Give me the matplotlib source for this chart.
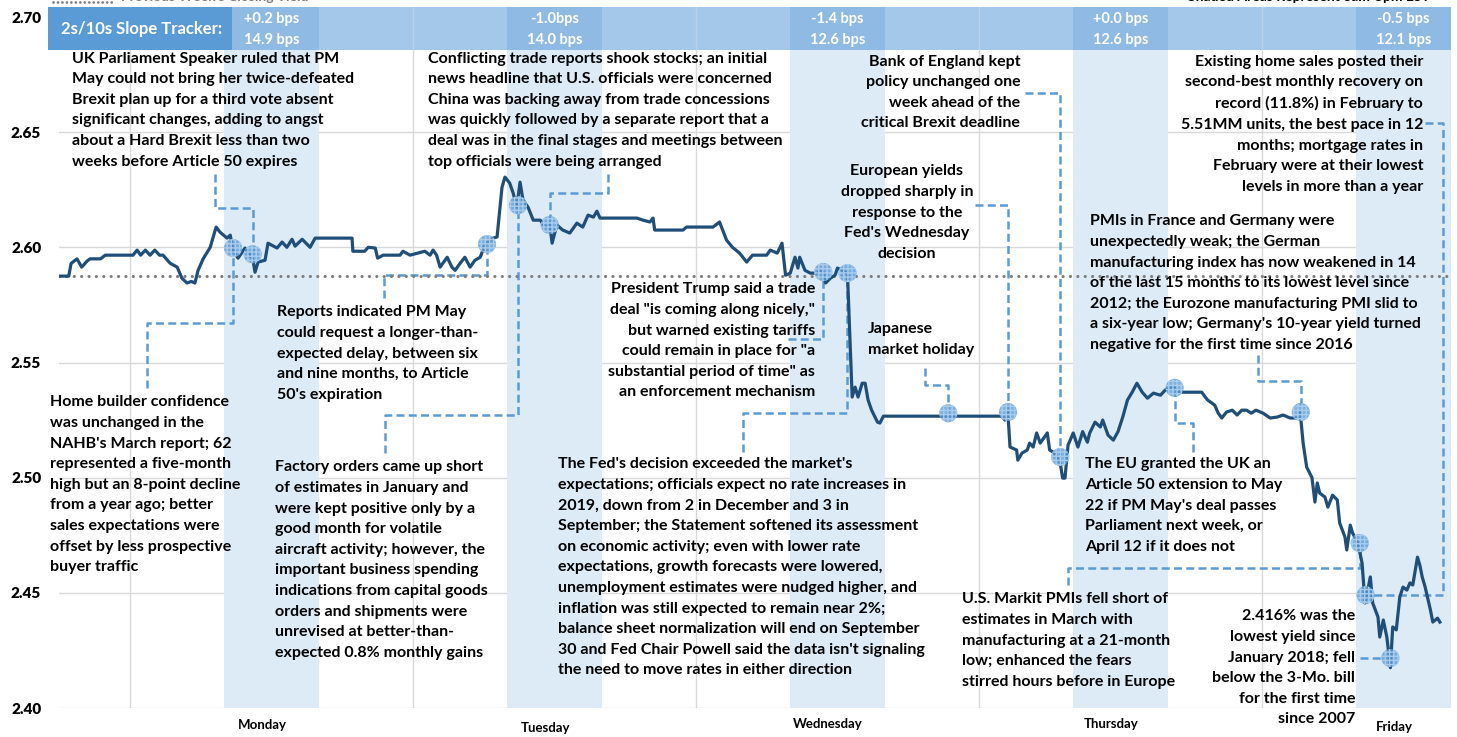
import matplotlib
matplotlib.use('Agg')
import matplotlib.pyplot as plt
from matplotlib.lines import Line2D
from matplotlib.patches import Rectangle

plt.rcParams['font.family'] = ['Lato', 'DejaVu Sans']

# ---------------- data ----------------
# hours measured from Monday 00:00 (week of the chart)
hours = [-6.0, -5.2, -5.0, -4.5, -4.1, -3.65, -3.4, -2.5, -2.1, 0.25, 0.6, 0.9, 1.3, 1.7, 2.1, 2.5, 2.8,
         3.4, 4.0, 4.4, 4.83, 5.2, 5.5, 5.77, 6.2, 6.8, 7.3, 7.63, 8.23, 8.5, 8.74, 9.16, 9.75, 10.2, 10.43,
         10.6, 10.86, 11.45, 11.7, 12.47, 12.9, 13.3, 13.74, 14.0, 14.6, 15.27, 15.7, 18.83, 18.9, 19.9,
         20.2, 20.8, 21.0, 21.46, 22.9, 23.15, 23.75, 25.0, 25.45, 25.7, 26.0, 26.3, 26.9, 27.3, 27.57,
         28.0, 28.4, 28.84, 29.26, 29.7, 30.1, 30.8, 31.13, 31.55, 31.8, 32.2, 32.5, 32.8, 33.08, 33.33,
         33.76, 34.2, 34.8, 35.2, 35.6, 35.8, 36.2, 36.7, 37.3, 37.9, 38.4, 38.85, 39.3, 39.6, 39.86,
         43.0, 43.5, 44.1, 44.36, 44.5, 46.9, 47.2, 49.45, 50.0, 50.6, 51.1, 51.7, 52.3, 52.8, 54.0,
         54.3, 54.9, 55.3, 55.6, 56.0, 56.4, 56.65, 56.8, 57.25, 57.7, 58.3, 58.5, 58.8, 59.0, 59.4,
         59.8, 60.0, 60.5, 60.85, 61.25, 61.5, 61.75, 62.1, 62.35, 62.6, 62.9, 63.4, 63.6, 63.9, 73.96,
         74.2, 74.45, 74.64, 75.2, 75.3, 75.66, 76.1, 76.3, 76.6, 76.9, 77.2, 77.8, 78.0, 78.3, 78.6,
         78.9, 79.1, 79.3, 79.56, 80.0, 80.4, 80.8, 81.2, 81.4, 81.85, 82.3, 82.5, 82.95, 83.4, 83.8,
         84.2, 84.6, 85.0, 85.4, 85.85, 86.3, 86.8, 87.4, 87.8, 88.2, 88.6, 89.06, 90.9, 91.2, 91.4,
         92.0, 92.3, 92.6, 93.0, 93.5, 93.9, 94.3, 94.7, 95.1, 95.5, 96.1, 96.7, 97.3, 97.8, 98.4,
         99.1, 99.25, 99.5, 99.8, 100.25, 100.5, 100.7, 100.9, 101.35, 101.6, 102.0, 102.4, 102.6,
         103.05, 103.2, 103.5, 103.7, 104.15, 104.5, 104.75, 104.9, 105.2, 105.4, 105.85, 106.0,
         106.3, 106.6, 106.9, 107.1, 107.4, 107.7, 107.97, 108.3, 108.56, 108.8, 109.2, 109.4, 109.6,
         109.85, 110.3, 110.5, 110.9, 111.1]
yields = [2.5875, 2.5875, 2.5930, 2.5950, 2.5914, 2.5940, 2.5950, 2.5950, 2.5966, 2.5966, 2.5988, 2.5966,
          2.5988, 2.5966, 2.5988, 2.5966, 2.5966, 2.5931, 2.5914, 2.5866, 2.5845, 2.5852, 2.5845, 2.5900,
          2.5950, 2.6000, 2.6088, 2.6066, 2.6040, 2.6053, 2.5986, 2.5953, 2.5997, 2.5966, 2.5944, 2.5892,
          2.5936, 2.5944, 2.6018, 2.5997, 2.6023, 2.6000, 2.6035, 2.6005, 2.6035, 2.6000, 2.6040, 2.6040,
          2.5983, 2.5983, 2.6000, 2.5997, 2.5953, 2.5966, 2.5966, 2.5983, 2.5966, 2.5983, 2.5966, 2.5988,
          2.5966, 2.5914, 2.5957, 2.5914, 2.5900, 2.5931, 2.5957, 2.5914, 2.5944, 2.5957, 2.6010, 2.6040,
          2.6045, 2.6261, 2.6305, 2.6279, 2.6235, 2.6174, 2.6283, 2.6205, 2.6174, 2.6118, 2.6118, 2.6088,
          2.6097, 2.6018, 2.6097, 2.6075, 2.6062, 2.6105, 2.6088, 2.6140, 2.6131, 2.6157, 2.6127, 2.6127,
          2.6118, 2.6110, 2.6127, 2.6075, 2.6075, 2.6088, 2.6088, 2.6110, 2.6031, 2.6000, 2.5975, 2.5936,
          2.5966, 2.5966, 2.5988, 2.5975, 2.6018, 2.5879, 2.5888, 2.5957, 2.5910, 2.5957, 2.5900, 2.5888,
          2.5888, 2.5897, 2.5893, 2.5845, 2.5866, 2.5879, 2.5910, 2.5897, 2.5888, 2.5350, 2.5393, 2.5350,
          2.5410, 2.5410, 2.5337, 2.5293, 2.5241, 2.5237, 2.5267, 2.5267, 2.5250, 2.5285, 2.5133, 2.5120,
          2.5076, 2.5107, 2.5120, 2.5150, 2.5133, 2.5194, 2.5150, 2.5194, 2.5120, 2.5111, 2.5089, 2.5063,
          2.4998, 2.4998, 2.5141, 2.5194, 2.5133, 2.5200, 2.5154, 2.5194, 2.5241, 2.5220, 2.5250, 2.5185,
          2.5163, 2.5200, 2.5263, 2.5337, 2.5371, 2.5410, 2.5371, 2.5345, 2.5367, 2.5358, 2.5380, 2.5390,
          2.5390, 2.5371, 2.5371, 2.5350, 2.5337, 2.5315, 2.5280, 2.5259, 2.5285, 2.5293, 2.5272, 2.5293,
          2.5293, 2.5280, 2.5293, 2.5280, 2.5259, 2.5263, 2.5272, 2.5259, 2.5259, 2.5285, 2.5150, 2.5046,
          2.5000, 2.4894, 2.4977, 2.4933, 2.4916, 2.4872, 2.4924, 2.4903, 2.4803, 2.4742, 2.4686, 2.4794,
          2.4759, 2.4716, 2.4629, 2.4456, 2.4490, 2.4569, 2.4456, 2.4395, 2.4308, 2.4382, 2.4308, 2.4175,
          2.4352, 2.4339, 2.4482, 2.4525, 2.4512, 2.4543, 2.4534, 2.4655, 2.4620, 2.4569, 2.4525, 2.4425,
          2.4373, 2.4390, 2.4373]

prev_close = 2.5875
day_names = ['Monday', 'Tuesday', 'Wednesday', 'Thursday', 'Friday']
day_start = [0, 24, 48, 72, 96]
session_start = [8, 32, 56, 80, 104]
session_end = [16, 40, 64, 88, 112]
bps_change = ['+0.2 bps', '-1.0bps', '-1.4 bps', '+0.0 bps', '-0.5 bps']
bps_level = ['14.9 bps', '14.0 bps', '12.6 bps', '12.6 bps', '12.1 bps']
y_ticks = [2.40, 2.45, 2.50, 2.55, 2.60, 2.65, 2.70]

event_hours = [8.74, 10.4, 30.28, 32.9, 35.6, 58.8, 60.85, 69.4, 74.47, 78.9, 88.6, 99.3, 104.3, 104.8, 106.9]
event_yields = [2.5997, 2.5970, 2.6014, 2.6183, 2.6097, 2.5893, 2.5888, 2.5280, 2.5285, 2.5090, 2.5390,
                2.5285, 2.4716, 2.4490, 2.4217]

# ---------------- layout ----------------
W, H = 1457, 737
fig = plt.figure(figsize=(W / 100, H / 100), dpi=100)
ax = fig.add_axes([59.3 / W, 1 - 708 / H, 1391.2 / W, 691 / H])
ax.set_xlim(-6, 112)
ax.set_ylim(2.40, 2.70)
for s in ax.spines.values():
    s.set_visible(False)
ax.set_xticks([])
ax.set_yticks(y_ticks)
ax.set_yticklabels([f'{v:.2f}' for v in y_ticks])
ax.tick_params(axis='y', length=0, pad=13, labelsize=11, labelcolor='black')
for lab in ax.get_yticklabels():
    lab.set_fontweight('heavy')
for v in y_ticks:
    ax.axhline(v, color='#D9D9D9', lw=1, zorder=0)
for d in day_start:
    ax.axvline(d, color='#D9D9D9', lw=1, zorder=0)
for a, b in zip(session_start, session_end):
    ax.axvspan(a, b, color='#DDEBF7', lw=0, zorder=0.5)

ax.axhline(prev_close, color='#7F7F7F', lw=2.3, linestyle=(0, (0.01, 2.3)),
           dash_capstyle='round', zorder=3)

dash = (0, (3.2, 1.7))
blue = '#5B9BD5'

annotations = [
    ("UK Parliament Speaker ruled that PM\nMay could not bring her twice-defeated\nBrexit plan up for a third vote absent\n"
     "significant changes, adding to angst\nabout a Hard Brexit less than two\nweeks before Article 50 expires",
     -4.92, 2.6850, 'left', 1, [(7.2, 2.632), (7.2, 2.617), (10.4, 2.617)]),
    ("Home builder confidence\nwas unchanged in the\nNAHB's March report; 62\nrepresented a five-month\n"
     "high but an 8-point decline\nfrom a year ago; better\nsales expectations were\noffset by less prospective\nbuyer traffic",
     -6.8, 2.5357, 'left', 0, [(1.45, 2.539), (1.45, 2.567), (8.74, 2.567)]),
    ("Reports indicated PM May\ncould request a longer-than-\nexpected delay, between six\nand nine months, to Article\n50's expiration",
     12.47, 2.5748, 'left', 2, [(21.54, 2.578), (21.54, 2.588), (30.28, 2.588)]),
    ("Factory orders came up short\nof estimates in January and\nwere kept positive only by a\ngood month for volatile\n"
     "aircraft activity; however, the\nimportant business spending\nindications from capital goods\n"
     "orders and shipments were\nunrevised at better-than-\nexpected 0.8% monthly gains",
     12.3, 2.5075, 'left', 3, [(21.6, 2.5107), (21.6, 2.5272), (32.9, 2.5272)]),
    ("Conflicting trade reports shook stocks; an initial\nnews headline that U.S. officials were concerned\n"
     "China was backing away from trade concessions\nwas quickly followed by a separate report that a\n"
     "deal was in the final stages and meetings between\ntop officials were being arranged",
     25.28, 2.6850, 'left', 4, [(40.5, 2.632), (40.5, 2.6235), (35.6, 2.6235)]),
    ("President Trump said a trade\ndeal \"is coming along nicely,\"\nbut warned existing tariffs\n"
     "could remain in place for \"a\nsubstantial period of time\" as\nan enforcement mechanism",
     58.1, 2.5848, 'right', 5, [(55.8, 2.560), (58.8, 2.560)]),
    ("The Fed's decision exceeded the market's\nexpectations; officials expect no rate increases in\n"
     "2019, down from 2 in December and 3 in\nSeptember; the Statement softened its assessment\n"
     "on economic activity; even with lower rate\nexpectations, growth forecasts were lowered,\n"
     "unemployment estimates were nudged higher, and\ninflation was still expected to remain near 2%;\n"
     "balance sheet normalization will end on September\n30 and Fed Chair Powell said the data isn't signaling\n"
     "the need to move rates in either direction",
     36.3, 2.5088, 'left', 6, [(52.0, 2.511), (52.0, 2.528), (60.85, 2.528)]),
    ("Japanese\nmarket holiday", 62.6, 2.5674, 'left', 7, [(67.4, 2.5476), (67.4, 2.5402), (69.4, 2.5402)]),
    ("European yields\ndropped sharply in\nresponse to the\nFed's Wednesday\ndecision",
     65.9, 2.6360, 'center', 8, [(71.7, 2.6183), (74.47, 2.6183)]),
    ("Bank of England kept\npolicy unchanged one\nweek ahead of the\ncritical Brexit deadline",
     75.5, 2.6837, 'right', 9, [(75.9, 2.6669), (78.9, 2.6669)]),
    ("The EU granted the UK an\nArticle 50 extension to May\n22 if PM May's deal passes\nParliament next week, or\nApril 12 if it does not",
     81.0, 2.5088, 'left', 10, [(90.2, 2.511), (90.2, 2.5237), (88.6, 2.5237)]),
    ("PMIs in France and Germany were\nunexpectedly weak; the German\nmanufacturing index has now weakened in 14\n"
     "of the last 15 months to its lowest level since\n2012; the Eurozone manufacturing PMI slid to\n"
     "a six-year low; Germany's 10-year yield turned\nnegative for the first time since 2016",
     81.4, 2.6143, 'left', 11, [(95.67, 2.5532), (95.67, 2.5419), (99.3, 2.5419)]),
    ("U.S. Markit PMIs fell short of\nestimates in March with\nmanufacturing at a 21-month\nlow; enhanced the fears\nstirred hours before in Europe",
     70.57, 2.4502, 'left', 12, [(79.56, 2.4534), (79.56, 2.4608), (104.3, 2.4608)]),
    ("Existing home sales posted their\nsecond-best monthly recovery on\nrecord (11.8%) in February to\n"
     "5.51MM units, the best pace in 12\nmonths; mortgage rates in\nFebruary were at their lowest\nlevels in more than a year",
     109.67, 2.6837, 'right', 13, [(109.8, 2.6539), (111.4, 2.6539), (111.4, 2.449)]),
    ("2.416% was the\nlowest yield since\nJanuary 2018; fell\nbelow the 3-Mo. bill\nfor the first time\nsince 2007",
     103.9, 2.4428, 'right', 14, [(104.3, 2.4217)]),
]

for txt, tx, ty, ha, mi, way in annotations:
    ax.text(tx, ty, txt, ha=ha, va='top', multialignment=ha, fontsize=11.5, fontweight='bold',
            color='black', linespacing=1.6, zorder=6, clip_on=False)
    xs = [p[0] for p in way] + [event_hours[mi]]
    ys = [p[1] for p in way] + [event_yields[mi]]
    ax.plot(xs, ys, color=blue, lw=1.8, linestyle=dash, zorder=2, solid_capstyle='butt')

ax.plot(hours, yields, color='#1F4E79', lw=2.3, zorder=4, solid_joinstyle='round')
ax.scatter(event_hours, event_yields, s=170, facecolor=(0.36, 0.61, 0.84, 0.8), edgecolor='#A9CCEC',
           linewidths=0, hatch='++++', zorder=5)

day_label_dy = [-17, -20, -16, -16, -19]
for name, d, dy in zip(day_names, day_start, day_label_dy):
    ax.annotate(name, xy=(d + 11.2, 0), xycoords=('data', 'axes fraction'), xytext=(0, dy),
                textcoords='offset pixels', ha='center', va='center', fontsize=9.5, fontweight='bold')

# ---------------- slope tracker banner ----------------
bx = fig.add_axes([48 / W, 1 - 50 / H, 1402.5 / W, 43 / H])
bx.set_xlim(-6.955, 112)
bx.set_ylim(0, 1)
bx.axis('off')
bx.add_patch(Rectangle((-6.955, 0), 118.955, 1, color='#A4C8EA', lw=0))
for a, b in zip(session_start, session_end):
    bx.add_patch(Rectangle((a, 0), b - a, 1, color='#8FBAE3', lw=0))
for d in day_start[1:]:
    bx.axvline(d, color='#B8D2EC', lw=1)
bx.add_patch(Rectangle((-6.955, 0), 15.6, 1, color='#5B9BD5', lw=0))
bx.text(1.0, 0.49, '2s/10s Slope Tracker:', ha='center', va='center', color='white', fontsize=12,
        fontweight='bold')
for a, b, c1, c2 in zip(session_start, session_end, bps_change, bps_level):
    bx.text((a + b) / 2, 0.71, c1, ha='center', va='center', color='white', fontsize=10.5, fontweight='bold')
    bx.text((a + b) / 2, 0.24, c2, ha='center', va='center', color='white', fontsize=10.5, fontweight='bold')

# cropped legend / note at the very top
fig.add_artist(Line2D([53 / W, 114 / W], [1 - 2 / H, 1 - 2 / H], color='#7F7F7F', lw=2,
                      linestyle=(0, (0.01, 1.6)), dash_capstyle='round'))
fig.text(121 / W, 1 + 3 / H, "Previous Week's Closing Yield", ha='left', va='center', fontsize=10,
         fontweight='bold', color='#7F7F7F')
fig.text(1430 / W, 1 + 3 / H, "Shaded Areas Represent 8am-5pm EST", ha='right', va='center', fontsize=10,
         fontweight='bold', color='black')

fig.savefig('out.png', dpi=100)
